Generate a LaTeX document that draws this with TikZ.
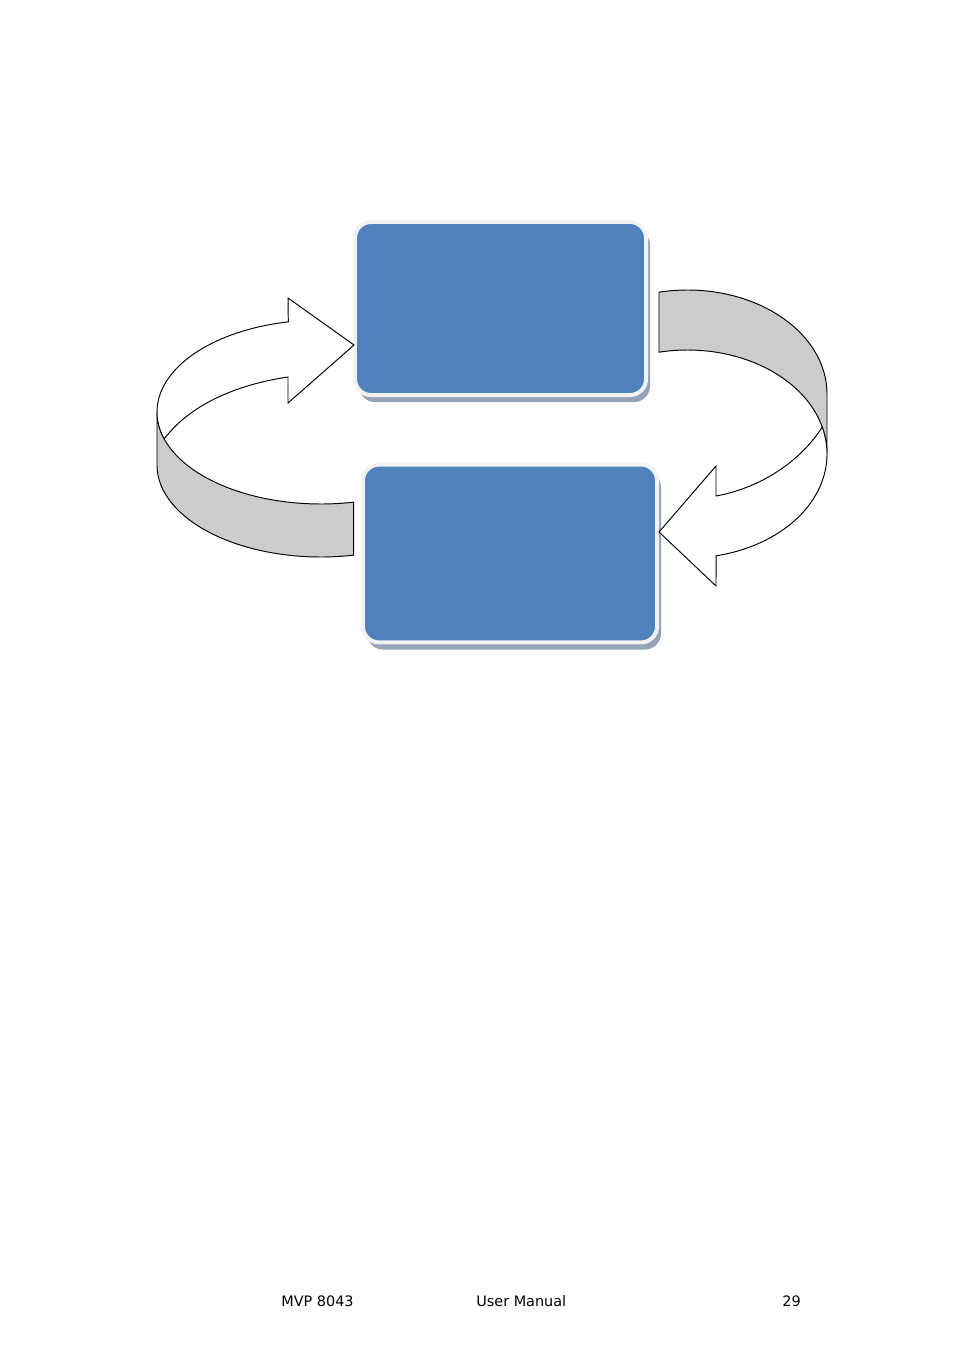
\documentclass[tikz,border=0pt]{standalone}
\usepackage{fontspec}
\setmainfont{DejaVu Sans}
\usetikzlibrary{shadows}
\definecolor{boxblue}{RGB}{79,129,189}
\definecolor{boxrim}{RGB}{242,242,242}
\definecolor{boxshade}{RGB}{150,162,182}
\definecolor{bandgray}{RGB}{204,204,204}
\tikzset{
  stagebox/.style={draw=boxrim, line width=2.5pt, fill=boxblue, rounded corners=10pt,
    inner sep=0pt, outer sep=0pt,
    drop shadow={shadow xshift=2.5pt, shadow yshift=-4.4pt, fill=boxshade, opacity=1}},
  ribbon/.style={draw=black, line width=0.6pt},
  footer/.style={anchor=base west, inner sep=0pt, font=\fontsize{9}{11}\selectfont}
}
\begin{document}
\begin{tikzpicture}[x=0.624pt, y=-0.624pt]
            \useasboundingbox (0,0) rectangle (954,1350);

            % the two stages
            \node[stagebox, minimum width=181.6pt, minimum height=108pt] (upper) at (500.5,308.5) {};
            \node[stagebox, minimum width=183.5pt, minimum height=111pt] (lower) at (510,553.5) {};

            % left ribbon, up into the upper stage
            \fill[bandgray] plot[domain=180:281.5, samples=60] ({321+164*cos(\x)},{412-92*sin(\x)})
                -- plot[domain=281.5:180, samples=60] ({321+164*cos(\x)},{465-92*sin(\x)}) -- cycle;
            \draw[ribbon] plot[domain=180:281.5, samples=60] ({321+164*cos(\x)},{412-92*sin(\x)})
                -- plot[domain=281.5:180, samples=60] ({321+164*cos(\x)},{465-92*sin(\x)}) -- cycle;
            \draw[ribbon, fill=white] plot[domain=197:101.5, samples=60] ({321+164*cos(\x)},{412-92*sin(\x)})
                -- (288,298) -- (354,345) -- (288,403) -- (288,377)
                .. controls (235,385) and (190,405) .. (164.2,438.9) -- cycle;

            % right ribbon, down into the lower stage
            \draw[ribbon, fill=bandgray] plot[domain=101.8:0, samples=60] ({687.5+139.5*cos(\x)},{394-104*sin(\x)})
                -- plot[domain=0:101.8, samples=60] ({687.5+139.5*cos(\x)},{454-104*sin(\x)}) -- cycle;
            \draw[ribbon, fill=white] plot[domain=15:-78.2, samples=60] ({687.5+139.5*cos(\x)},{454-104*sin(\x)})
                -- (716,586) -- (659,532) -- (716,466) -- (716,496)
                .. controls (760,488) and (800,462) .. (822.2,427.1) -- cycle;

            % footer
            \node[footer] (model) at (281,1306) {MVP 8043};
            \node[footer] (title) at (476,1306) {User Manual};
            \node[footer] (page) at (782,1306) {29};
\end{tikzpicture}
\end{document}
